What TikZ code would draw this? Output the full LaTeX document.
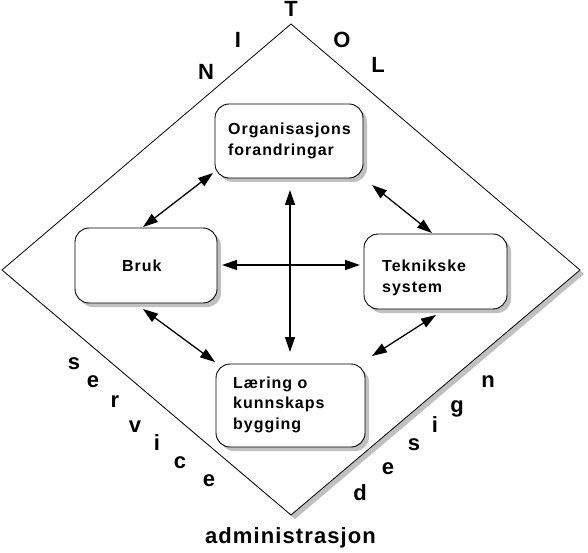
\documentclass[tikz,border=0pt]{standalone}
\usepackage{fontspec}
\setmainfont{Liberation Sans}
\usetikzlibrary{arrows.meta,shadows}
\definecolor{shadowgray}{RGB}{192,192,192}
\begin{document}
\begin{tikzpicture}[x=1pt,y=-1pt,
  box/.style={draw=black, line width=0.9pt, fill=white, rounded corners=14pt,
    drop shadow={shadow xshift=4pt, shadow yshift=-4pt, opacity=1, fill=shadowgray}},
  boxtext/.style={font=\fontsize{16}{20.5}\selectfont\bfseries\addfontfeature{LetterSpace=6},
    align=left, inner sep=0pt, anchor=base west},
  bigletter/.style={font=\fontsize{22}{26}\selectfont\bfseries, inner sep=0pt, anchor=base},
  link/.style={line width=1.3pt, {Triangle[length=15pt,width=10pt]}-{Triangle[length=15pt,width=10pt]}}
]
\useasboundingbox (0,0) rectangle (588,553);
\fill[white] (0,0) rectangle (588,553);
% diamond
\coordinate (T) at (291,24);
\coordinate (R) at (580,270);
\coordinate (B) at (291,515);
\coordinate (L) at (2,270);
\fill[shadowgray] ([shift={(4,4)}]T) -- ([shift={(4,4)}]R) -- ([shift={(4,4)}]B) -- ([shift={(4,4)}]L) -- cycle;
\filldraw[fill=white, draw=black, line width=0.8pt] (T) -- (R) -- (B) -- (L) -- cycle;
% boxes
\node[box, minimum width=148pt, minimum height=74pt] (org) at (289,141) {};
\node[box, minimum width=143pt, minimum height=75pt] (tek) at (435.5,271.5) {};
\node[box, minimum width=142pt, minimum height=75pt] (bruk) at (146,265.5) {};
\node[box, minimum width=149pt, minimum height=83pt] (laer) at (290.5,405.5) {};
% text nodes: base anchor is the baseline of the last line
\node[boxtext] (orgt) at (228,155.5) {Organisasjons\\forandringar};
\node[boxtext] (tekt) at (382,292) {Teknikske\\system};
\node[boxtext] (brukt) at (122,271) {Bruk};
\node[boxtext] (laert) at (233,429) {Læring o\\kunnskaps\\bygging};
% arrows
\coordinate (a1) at (213,173); \coordinate (a2) at (143,227);
\coordinate (b1) at (372,185); \coordinate (b2) at (432,233);
\coordinate (c1) at (143,309); \coordinate (c2) at (215,362);
\coordinate (d1) at (436,315); \coordinate (d2) at (372,356);
\coordinate (v1) at (290,190); \coordinate (v2) at (290,352);
\coordinate (h1) at (222,265); \coordinate (h2) at (360,265);
\draw[link] (a1) -- (a2);
\draw[link] (b1) -- (b2);
\draw[link] (c1) -- (c2);
\draw[link] (d1) -- (d2);
\draw[link] (v1) -- (v2);
\draw[link] (h1) -- (h2);
% TOL / NI
\node[bigletter] (lT) at (291,17) {T};
\node[bigletter] (lO) at (342,48) {O};
\node[bigletter] (lL) at (378,73) {L};
\node[bigletter] (lI) at (238,48) {I};
\node[bigletter] (lN) at (206,80) {N};
% service
\node[bigletter] (s1) at (74,369) {s};
\node[bigletter] (s2) at (93,387) {e};
\node[bigletter] (s3) at (115,407) {r};
\node[bigletter] (s4) at (135,432) {v};
\node[bigletter] (s5) at (157,450) {i};
\node[bigletter] (s6) at (180,468) {c};
\node[bigletter] (s7) at (209,486) {e};
% design
\node[bigletter] (d1l) at (360,500) {d};
\node[bigletter] (d2l) at (388,474) {e};
\node[bigletter] (d3l) at (414,450) {s};
\node[bigletter] (d4l) at (435,432) {i};
\node[bigletter] (d5l) at (457,412) {g};
\node[bigletter] (d6l) at (488,387) {n};
% administrasjon
\node[font=\fontsize{22}{26}\selectfont\bfseries\addfontfeature{LetterSpace=5}, inner sep=0pt, anchor=base] (adm) at (290.5,543) {administrasjon};
\end{tikzpicture}
\end{document}
